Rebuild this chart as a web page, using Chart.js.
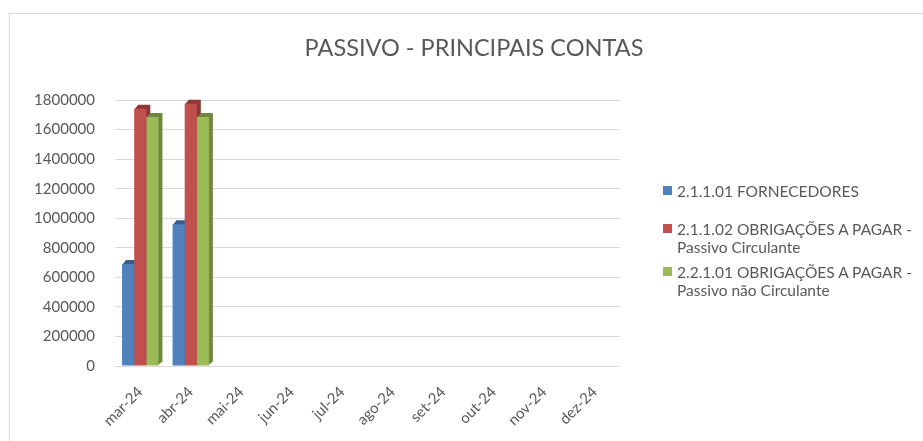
<!DOCTYPE html>
<html>
<head>
<meta charset="utf-8">
<script src="https://cdn.jsdelivr.net/npm/chart.js@4/dist/chart.umd.min.js"></script>
<style>
    body { margin: 0; background: #fff; font-family: Lato, sans-serif; }
    #quadro { position: relative; width: 923px; height: 441px; overflow: hidden; }
    #moldura { position: absolute; left: 9px; top: 13px; width: 930px; height: 440px; border: 1px solid #d9d9d9; }
    #titulo { position: absolute; left: 0; width: 948px; top: 33px; text-align: center; font-size: 23.5px; color: #595959; }
    #legenda { position: absolute; left: 663px; top: 182px; font-size: 15.5px; color: #595959; line-height: 18px; }
    .item { position: relative; padding-left: 14px; margin-bottom: 20px; }
    .item.duas { margin-bottom: 7px; }
    .item span { position: absolute; left: 0; top: 4px; width: 9px; height: 9px; }
</style>
</head>
<body>
<div id="quadro">
    <div id="moldura"></div>
    <canvas id="grafico" width="923" height="441"></canvas>
    <div id="titulo">PASSIVO - PRINCIPAIS CONTAS</div>
    <div id="legenda"></div>
</div>
<script>
var meses = ['mar-24', 'abr-24', 'mai-24', 'jun-24', 'jul-24', 'ago-24', 'set-24', 'out-24', 'nov-24', 'dez-24'];

var fornecedores = [690000, 960000, null, null, null, null, null, null, null, null];
var obrigacoesCirculante = [1740000, 1775000, null, null, null, null, null, null, null, null];
var obrigacoesNaoCirculante = [1685000, 1685000, null, null, null, null, null, null, null, null];

var nomesSeries = [
    ['2.1.1.01 FORNECEDORES'],
    ['2.1.1.02 OBRIGAÇÕES A PAGAR -', 'Passivo Circulante'],
    ['2.2.1.01 OBRIGAÇÕES A PAGAR -', 'Passivo não Circulante']
];
var cores = ['#4f81bd', '#c0504d', '#9bbb59'];
var coresLado = ['#385d8a', '#8c3836', '#71893f'];

// lado e topo das barras (imitando o 3D do Excel), desenhados antes das frentes
var efeito3d = {
    id: 'efeito3d',
    beforeDatasetsDraw: function(chart) {
        var ctx = chart.ctx;
        var d = 4;
        chart.data.datasets.forEach(function(ds, i) {
            chart.getDatasetMeta(i).data.forEach(function(bar, j) {
                if (ds.data[j] == null) return;
                var x0 = bar.x - bar.width / 2, x1 = bar.x + bar.width / 2;
                ctx.save();
                ctx.fillStyle = coresLado[i];
                ctx.beginPath();
                ctx.moveTo(x1 - 1, bar.y);
                ctx.lineTo(x1 + d, bar.y - d);
                ctx.lineTo(x1 + d, bar.base - d);
                ctx.lineTo(x1 - 1, bar.base);
                ctx.closePath();
                ctx.fill();
                ctx.beginPath();
                ctx.moveTo(x0, bar.y + 1);
                ctx.lineTo(x0 + d, bar.y - d);
                ctx.lineTo(x1 + d, bar.y - d);
                ctx.lineTo(x1, bar.y + 1);
                ctx.closePath();
                ctx.fill();
                ctx.restore();
            });
        });
    }
};

var series = [fornecedores, obrigacoesCirculante, obrigacoesNaoCirculante];
var datasets = [];
for (var i = 0; i < series.length; i++) {
    datasets.push({
        label: nomesSeries[i].join(' '),
        data: series[i],
        backgroundColor: cores[i],
        borderWidth: 0,
        categoryPercentage: 0.72,
        barPercentage: 1
    });
}

var legenda = document.getElementById('legenda');
for (var k = 0; k < nomesSeries.length; k++) {
    var item = document.createElement('div');
    item.className = nomesSeries[k].length > 1 ? 'item duas' : 'item';
    item.innerHTML = '<span style="background:' + cores[k] + '"></span>' + nomesSeries[k].join('<br>');
    legenda.appendChild(item);
}

new Chart(document.getElementById('grafico'), {
    type: 'bar',
    data: { labels: meses, datasets: datasets },
    plugins: [efeito3d],
    options: {
        responsive: false,
        animation: false,
        layout: { padding: { top: 100, right: 303, bottom: 0, left: 0 } },
        plugins: {
            legend: { display: false },
            tooltip: { enabled: false }
        },
        scales: {
            x: {
                grid: { display: false },
                border: { display: false },
                ticks: {
                    color: '#595959',
                    font: { family: 'Lato', size: 15 },
                    maxRotation: 45,
                    minRotation: 45,
                    padding: 9
                },
                afterFit: function(scale) { scale.height = 75; }
            },
            y: {
                min: 0,
                max: 1800000,
                grid: { color: '#d9d9d9', drawTicks: false },
                border: { display: false },
                ticks: {
                    stepSize: 200000,
                    color: '#595959',
                    font: { family: 'Lato', size: 15 },
                    padding: 20,
                    callback: function(v) { return String(v); }
                },
                afterFit: function(scale) { scale.width = 115; }
            }
        }
    }
});
</script>
</body>
</html>
